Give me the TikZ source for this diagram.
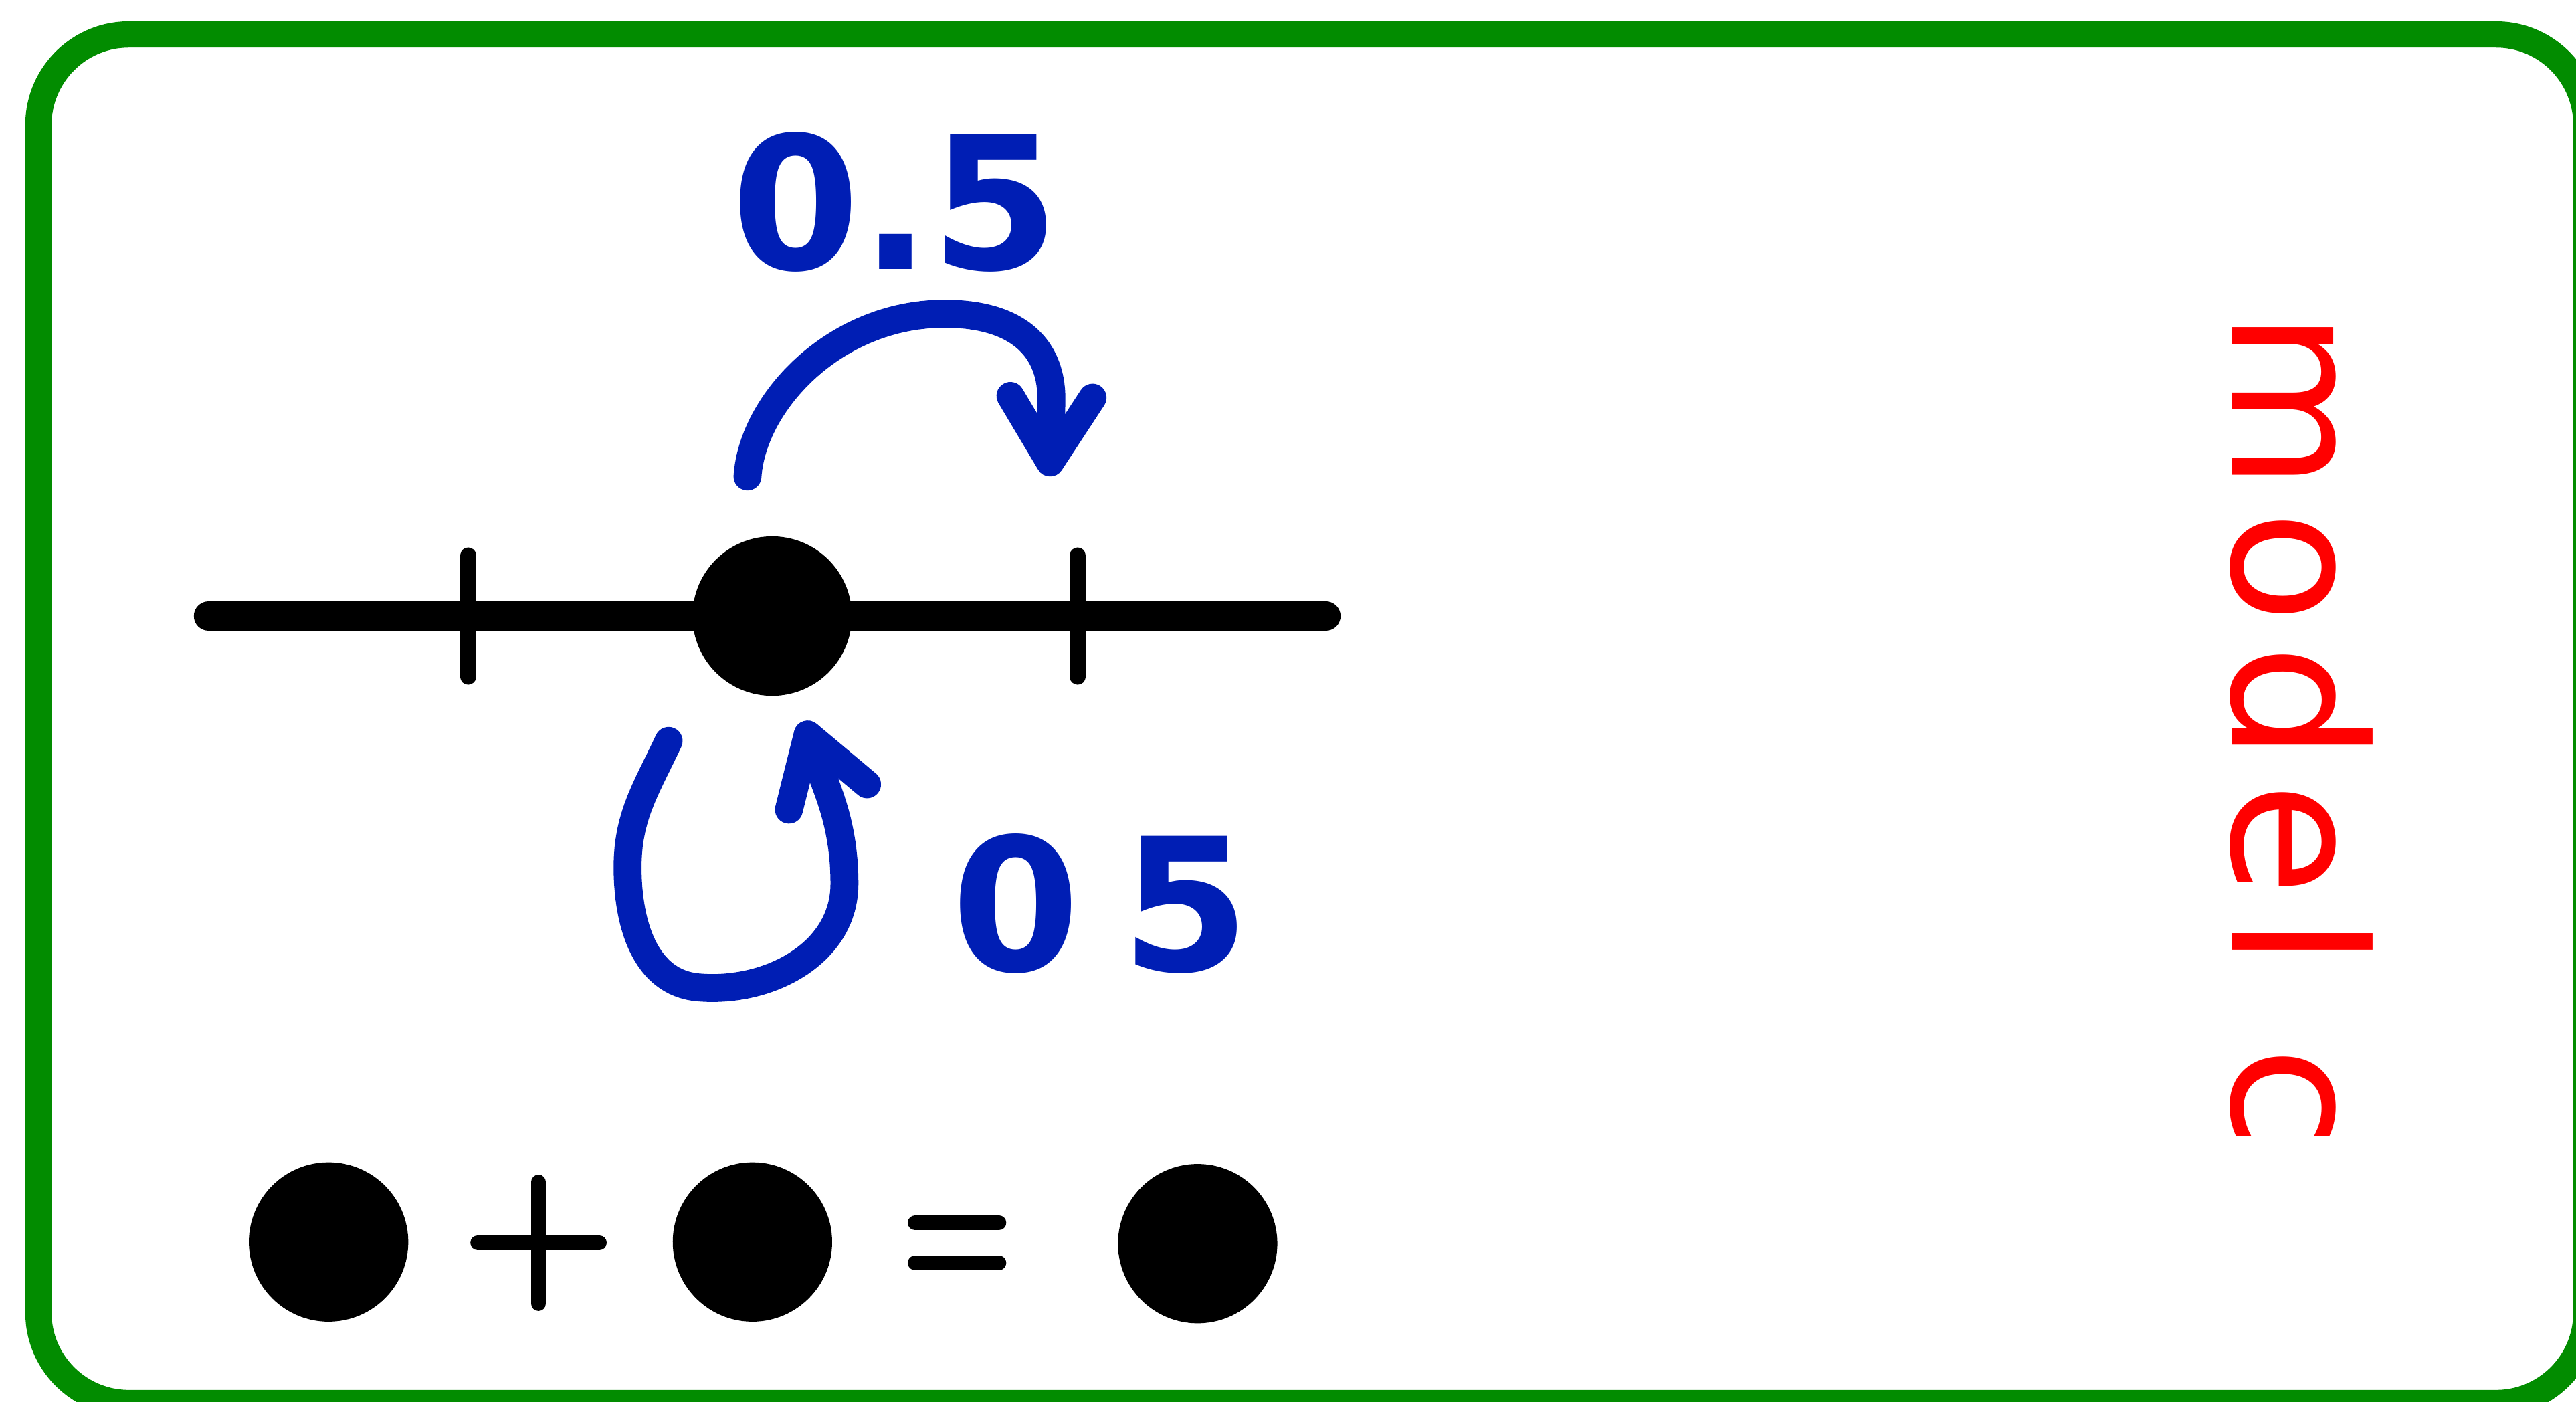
\documentclass[tikz,border=0pt]{standalone}
\usepackage{fontspec}
\newfontfamily\handfont{DejaVu Sans}
\newfontfamily\redfont{DejaVu Sans}[LetterSpace=11]
\usepackage{tikz}
\usetikzlibrary{arrows.meta,calc}
\definecolor{framegreen}{RGB}{2,140,0}
\definecolor{inkblue}{RGB}{0,30,180}
\definecolor{inkred}{RGB}{255,0,0}
\tikzset{
	frm/.style={draw=framegreen, line width=0.16cm, rounded corners=0.55cm},
	numline/.style={line width=0.18cm, line cap=round},
	tickmark/.style={line width=0.095cm, line cap=round},
	ball/.style={circle, fill=black, inner sep=0pt, minimum size=0.97cm},
	sym/.style={line width=0.09cm, line cap=round},
	ink/.style={draw=inkblue, line width=0.17cm, line cap=round, line join=round},
	inkarr/.style={ink, -{Straight Barb[length=4mm, width=5mm, round]}},
	num/.style={text=inkblue, font=\handfont\bfseries\fontsize{32}{32}\selectfont, inner sep=0pt},
	lbl/.style={text=inkred, font=\redfont\fontsize{32}{32}\selectfont, inner sep=0pt, rotate=-90},
}
\begin{document}
\begin{tikzpicture}[x=1cm, y=1cm]
	\clip (0,0) rectangle (15.68,8.53);
	\useasboundingbox (0,0) rectangle (15.68,8.53);
	% frame
	\draw[frm] (0.234,-0.01) rectangle (15.743,8.32);
	% number line
	\coordinate (L) at (1.27,4.78);
	\coordinate (R) at (8.07,4.78);
	\draw[numline] (L) -- (R);
	\draw[tickmark] (2.85,5.15) -- (2.85,4.41);
	\draw[tickmark] (6.56,5.15) -- (6.56,4.41);
	\node[ball] (p) at (4.70,4.78) {};
	% jump to the right
	\coordinate (jA) at (4.55,5.63);
	\coordinate (jB) at (6.39,5.63);
	\draw[inkarr] (jA) .. controls (4.58,6.08) and (5.08,6.62) .. (5.75,6.62)
		.. controls (6.15,6.62) and (6.40,6.45) .. (6.40,6.10) -- (jB);
	\node[num] (half1) at (5.45,7.30) {0.5};
	% loop back to the point
	\coordinate (lA) at (4.07,4.02);
	\coordinate (lB) at (4.89,4.14);
	\draw[inkarr] (lA) to[out=-115, in=90] (3.82,3.25) to[out=-90, in=175] (4.25,2.52)
		to[out=-5, in=-90] (5.14,3.15) to[out=90, in=-72] (lB);
	\node[num] (half2) at (6.70,3.03) {0\kern0.25cm5};
	% sum of points
	\node[ball] (b1) at (2.00,0.97) {};
	\node[ball] (b2) at (4.58,0.97) {};
	\node[ball] (b3) at (7.29,0.96) {};
	\coordinate (plus) at (3.278,0.965);
	\draw[sym] ($(plus)+(-0.37,0)$) -- ($(plus)+(0.37,0)$);
	\draw[sym] ($(plus)+(0,0.37)$) -- ($(plus)+(0,-0.37)$);
	\coordinate (eq) at (5.825,0.965);
	\draw[sym] ($(eq)+(-0.255,0.122)$) -- ($(eq)+(0.255,0.122)$);
	\draw[sym] ($(eq)+(-0.255,-0.122)$) -- ($(eq)+(0.255,-0.122)$);
	% side label
	\node[lbl] (model) at (14.01,4.09) {model c};
\end{tikzpicture}
\end{document}
